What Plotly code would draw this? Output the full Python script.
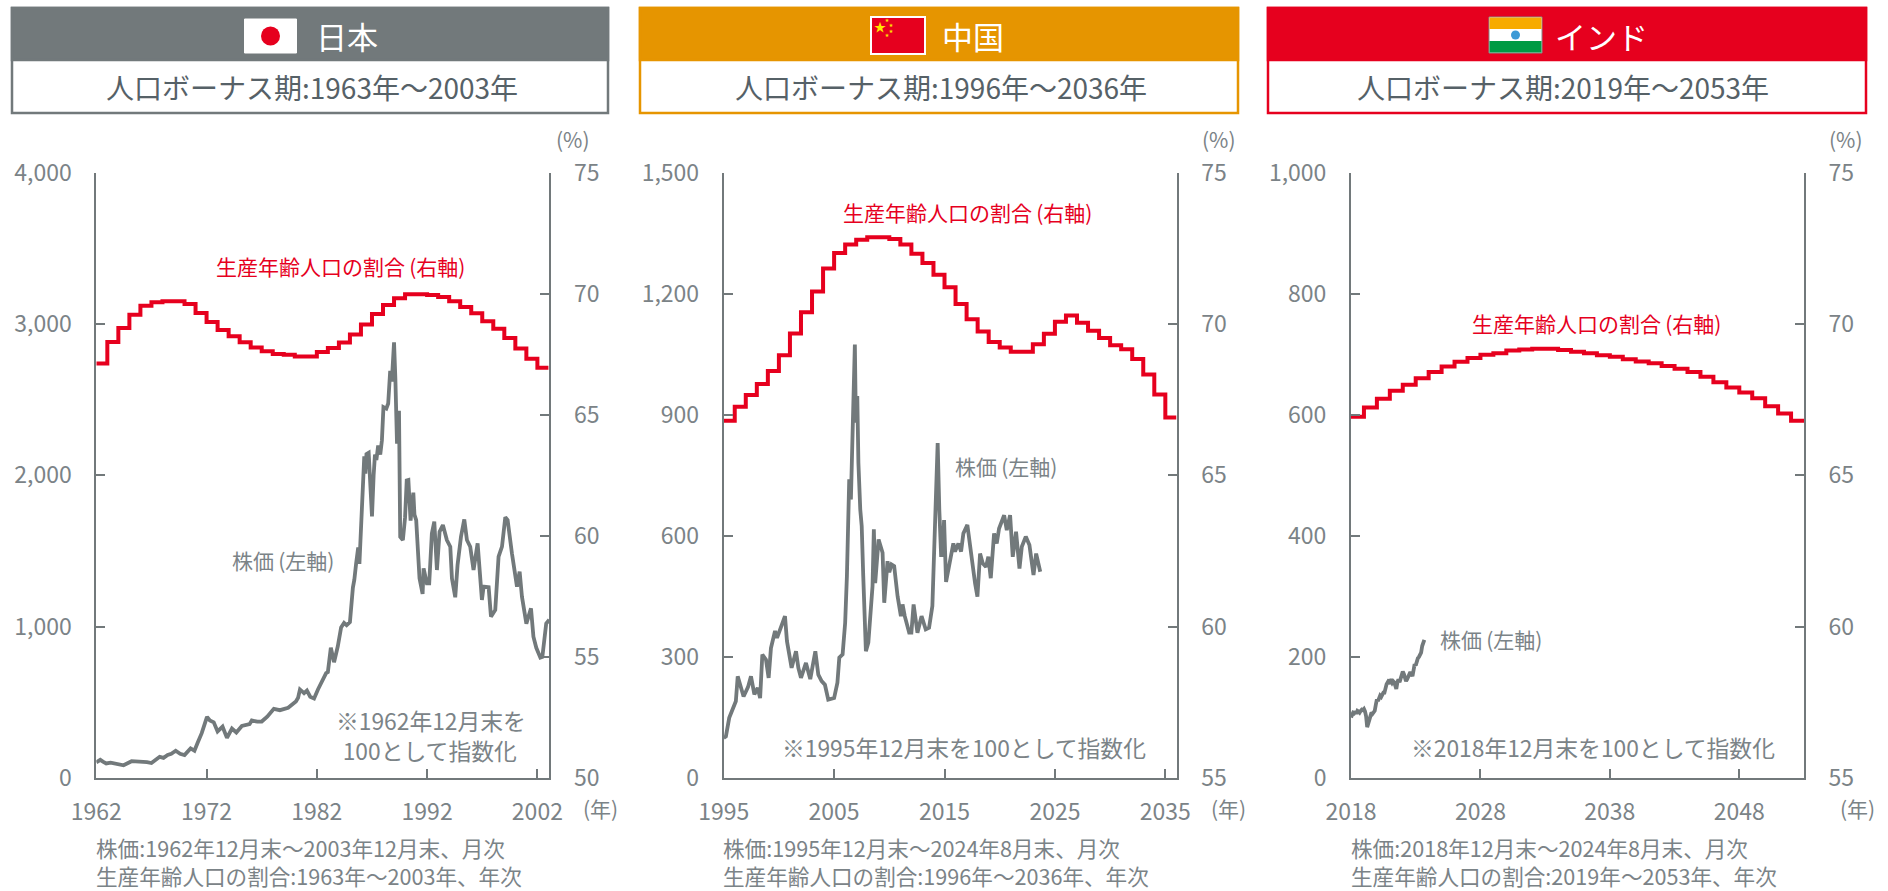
import plotly.graph_objects as go

W, H = 1888, 891
FONT = "Noto Sans CJK JP"
GRAY = "#72797B"
TXT = "#7B8387"
DARK = "#566167"
RED = "#E6001E"
ORANGE = "#E69500"

# ---------- Japan ----------
jp_ratio_start = 1962
jp_ratio = [67.11, 68.0, 68.58, 69.13, 69.5, 69.64, 69.68, 69.68, 69.57, 69.2, 68.83, 68.5, 68.24, 67.99,
            67.77, 67.62, 67.51, 67.48, 67.4, 67.4, 67.59, 67.75, 67.98, 68.31, 68.72, 69.16, 69.53, 69.81,
            69.97, 69.97, 69.94, 69.86, 69.68, 69.45, 69.19, 68.86, 68.55, 68.17, 67.73, 67.31, 66.94]
jp_stock_year = [1962.0, 1962.36, 1962.6, 1962.9, 1963.3, 1963.7, 1964.1, 1964.47, 1965.2, 1965.6, 1966.1, 1966.6, 1967.0,
                 1967.4, 1967.75, 1968.1, 1968.47, 1968.8, 1969.2, 1969.6, 1970.0, 1970.55, 1970.9, 1971.2, 1971.56,
                 1972.04, 1972.3, 1972.65, 1973.0, 1973.45, 1973.85, 1974.3, 1974.7, 1975.2, 1975.9, 1976.1, 1976.6,
                 1977.0, 1977.5, 1978.1, 1978.65, 1979.4, 1980.1, 1980.3, 1980.47, 1980.84, 1981.1, 1981.4, 1981.75,
                 1982.1, 1982.5, 1982.84, 1983.0, 1983.27, 1983.56, 1983.9, 1984.2, 1984.47, 1984.7, 1985.0, 1985.27,
                 1985.4, 1985.56, 1985.75, 1985.86, 1986.1, 1986.2, 1986.3, 1986.4, 1986.5, 1986.7, 1986.85, 1987.0, 1987.15,
                 1987.27, 1987.4, 1987.56, 1987.75, 1987.9, 1988.04, 1988.3, 1988.47, 1988.6, 1988.65, 1988.8, 1989.0, 1989.12,
                 1989.27, 1989.45, 1989.56, 1989.8, 1990.0, 1990.15, 1990.3, 1990.5, 1990.75, 1990.85, 1991.01,
                 1991.31, 1991.59, 1991.68, 1991.98, 1992.19, 1992.43, 1992.65, 1992.89, 1993.13, 1993.43, 1993.79,
                 1994.1, 1994.25, 1994.55, 1994.76, 1995.07, 1995.37, 1995.61, 1995.91, 1996.21, 1996.58, 1996.97,
                 1997.12, 1997.58, 1997.79, 1998.18, 1998.48, 1998.79, 1999.09, 1999.3, 1999.69, 2000.15, 2000.39,
                 2000.6, 2001.0, 2001.42, 2001.64, 2001.9, 2002.27, 2002.45, 2002.8, 2003.08]
jp_stock_value = [103, 120, 108, 96, 101, 96, 90, 84, 111, 109, 111, 105, 99,
                  118, 140, 133, 152, 160, 180, 160, 152, 195, 180, 235, 296,
                  404, 380, 368, 308, 339, 265, 327, 301, 344, 356, 380, 372,
                  373, 405, 457, 448, 464, 505, 530, 585, 561, 578, 537, 525,
                  585, 640, 693, 700, 861, 765, 870, 994, 1025, 1010, 1030, 1258,
                  1310, 1415, 1523, 1415, 1752, 1900, 2125, 2010, 2140, 2149, 1950, 1728, 2000,
                  2137, 2100, 2197, 2137, 2230, 2450, 2440, 2474, 2600, 2690, 2620, 2878, 2640,
                  2209, 2426, 1594, 1572, 1720, 1965, 1968, 1700,
                  1885, 1740, 1704, 1319, 1216, 1385, 1286, 1286, 1616, 1693,
                  1374, 1627, 1671, 1572, 1528, 1319, 1194, 1407, 1594, 1708,
                  1572, 1528, 1374, 1550, 1176, 1264, 1260, 1066, 1110, 1462,
                  1528, 1722, 1704, 1484, 1264, 1363, 1198, 1020, 1121, 933, 860,
                  795, 800, 1020, 1045]
jp_x_ticks = [1962, 1972, 1982, 1992, 2002]
jp_left_ticks = [0, 1000, 2000, 3000, 4000]
jp_left_labels = ["0", "1,000", "2,000", "3,000", "4,000"]
jp_right_ticks = [50, 55, 60, 65, 70, 75]

# ---------- China ----------
cn_ratio_start = 1995
cn_ratio = [66.8, 67.26, 67.65, 68.01, 68.44, 68.96, 69.68, 70.38, 71.07, 71.83, 72.34, 72.62, 72.78, 72.86,
            72.86, 72.8, 72.62, 72.32, 72.01, 71.62, 71.21, 70.66, 70.15, 69.75, 69.4, 69.22, 69.08, 69.08,
            69.33, 69.67, 70.07, 70.28, 70.04, 69.77, 69.53, 69.29, 69.16, 68.84, 68.33, 67.67, 66.91]
cn_stock_year = [1995.0, 1995.2, 1995.5, 1995.8, 1996.1, 1996.27, 1996.6, 1996.8, 1997.2, 1997.47, 1997.78, 1998.08, 1998.3,
                 1998.5, 1998.83, 1999.07, 1999.28, 1999.65, 1999.83, 2000.2, 2000.55, 2000.73, 2000.94, 2001.15,
                 2001.55, 2001.76, 2002.0, 2002.45, 2002.84, 2003.3, 2003.57, 2003.87, 2004.17, 2004.47, 2005.0,
                 2005.3, 2005.47, 2005.77, 2006.0, 2006.16, 2006.37, 2006.52, 2006.88, 2006.97, 2007.1, 2007.2,
                 2007.37, 2007.5, 2007.64, 2007.73, 2007.88, 2008.1, 2008.48, 2008.6, 2008.72, 2009.03, 2009.39,
                 2009.54, 2009.84, 2010.0, 2010.2, 2010.44, 2010.75, 2011.05, 2011.2, 2011.4, 2011.8, 2012.0,
                 2012.2, 2012.55, 2012.92, 2013.3, 2013.6, 2013.9, 2014.08, 2014.38, 2014.53, 2014.69, 2014.82,
                 2014.96, 2015.14, 2015.44, 2015.8, 2015.95, 2016.26, 2016.5, 2016.71, 2017.07, 2017.37, 2017.56,
                 2017.77, 2017.98, 2018.22, 2018.46, 2018.76, 2018.97, 2019.19, 2019.49, 2019.73, 2019.94, 2020.4,
                 2020.64, 2020.94, 2021.18, 2021.48, 2021.79, 2022.0, 2022.36, 2022.69, 2023.06, 2023.3, 2023.67]
cn_stock_value = [99, 103, 149, 169, 190, 252, 223, 202, 225, 252, 207, 223, 198,
                  306, 293, 248, 322, 364, 347, 376, 401, 339, 306, 273,
                  314, 273, 248, 285, 245, 314, 256, 240, 231, 194, 198,
                  236, 298, 306, 384, 500, 740, 690, 1074, 880, 946, 781,
                  665, 624, 500, 426, 314, 335, 475, 616, 483, 591, 558,
                  434, 537, 510, 529, 525, 450, 401, 430, 401, 360, 360,
                  430, 360, 401, 368, 372, 426, 593, 830, 664, 552, 552,
                  639, 486, 532, 581, 561, 581, 561, 606, 627, 565, 511,
                  482, 449, 556, 532, 523, 548, 495, 606, 581, 618, 651,
                  614, 651, 548, 610, 519, 573, 598, 577, 503, 556, 511]
cn_x_ticks = [1995, 2005, 2015, 2025, 2035]
cn_left_ticks = [0, 300, 600, 900, 1200, 1500]
cn_left_labels = ["0", "300", "600", "900", "1,200", "1,500"]
cn_right_ticks = [55, 60, 65, 70, 75]

# ---------- India ----------
in_ratio_start = 2018
in_ratio = [66.93, 67.24, 67.53, 67.79, 67.99, 68.2, 68.41, 68.59, 68.75, 68.87, 68.98, 69.03, 69.12, 69.15, 69.18,
            69.18, 69.14, 69.08, 69.03, 68.96, 68.91, 68.83, 68.76, 68.7, 68.61, 68.52, 68.41, 68.25, 68.07, 67.9,
            67.73, 67.54, 67.28, 67.04, 66.8]
in_stock_month = list(range(69))
in_stock_value = [100, 104, 108, 107, 110, 106, 111, 110, 108, 111, 113, 112, 114, 110, 102, 84, 90, 92, 100, 108, 106,
                  110, 111, 121, 130, 127, 133, 136, 134, 139, 141, 141, 150, 155, 158, 155, 163, 161, 157, 160, 158,
                  153, 147, 158, 163, 158, 165, 172, 176, 172, 163, 160, 163, 168, 172, 175, 172, 168, 178, 188, 186,
                  196, 198, 200, 205, 207, 218, 224, 228]
in_x_ticks = [2018, 2028, 2038, 2048]
in_left_ticks = [0, 200, 400, 600, 800, 1000]
in_left_labels = ["0", "200", "400", "600", "800", "1,000"]
in_right_ticks = [55, 60, 65, 70, 75]

fig = go.Figure()


def px(v):
    return v / W


def py(v):
    return 1 - v / H


def text(x, y, s, size=20, color=TXT, anchor="center"):
    fig.add_annotation(x=px(x), y=py(y), xref="paper", yref="paper", text=s, showarrow=False,
                       xanchor=anchor, yanchor="middle", align=anchor, borderpad=0, borderwidth=0,
                       font=dict(family=FONT, size=size, color=color))


def rect(x0, y0, x1, y1, fill, line=None, lw=0):
    fig.add_shape(type="rect", xref="paper", yref="paper", x0=px(x0), x1=px(x1), y0=py(y0), y1=py(y1),
                  fillcolor=fill, line=dict(color=line or fill, width=lw))


def circle(cx, cy, r, fill):
    fig.add_shape(type="circle", xref="paper", yref="paper", x0=px(cx - r), x1=px(cx + r), y0=py(cy - r),
                  y1=py(cy + r), fillcolor=fill, line=dict(width=0))


def panel(n, left, right, xr, yl, yr, xticks, lt, ll, rt, ratio_x, ratio, sx, sy):
    xa = "x" if n == 0 else f"x{n + 1}"
    y1 = 2 * n + 1
    y2 = 2 * n + 2
    ya1 = "y" if y1 == 1 else f"y{y1}"
    ya2 = f"y{y2}"
    fig.add_trace(go.Scatter(x=sx, y=sy, mode="lines", xaxis=xa, yaxis=ya1, showlegend=False, hoverinfo="skip",
                             line=dict(color=GRAY, width=3.8, shape="linear")))
    fig.add_trace(go.Scatter(x=ratio_x + [ratio_x[-1] + 1], y=ratio + [ratio[-1]], mode="lines", xaxis=xa, yaxis=ya2,
                             showlegend=False, hoverinfo="skip",
                             line=dict(color=RED, width=4, shape="hv")))
    common = dict(showgrid=False, zeroline=False, showline=True, linecolor=GRAY, linewidth=2, automargin=False,
                  ticks="inside", ticklen=9, tickcolor=GRAY, tickwidth=1.6,
                  tickfont=dict(family=FONT, size=23, color=TXT))
    xname = "xaxis" if n == 0 else f"xaxis{n + 1}"
    yname1 = "yaxis" if y1 == 1 else f"yaxis{y1}"
    yname2 = f"yaxis{y2}"
    dom_y = [py(778), py(172.5)]
    fig.update_layout({
        xname: dict(common, domain=[px(left), px(right)], range=xr, tickmode="array", tickvals=xticks,
                    ticktext=[str(t) for t in xticks], anchor=ya1, ticklabelstandoff=12),
        yname1: dict(common, domain=dom_y, range=yl, tickmode="array", tickvals=lt, ticktext=ll, anchor=xa,
                     side="left", ticklabelstandoff=18),
        yname2: dict(common, domain=dom_y, range=yr, tickmode="array", tickvals=rt, ticktext=[str(t) for t in rt],
                     anchor=xa, side="right", overlaying=ya1, ticklabelstandoff=18),
    })


jp_rx = [jp_ratio_start + i for i in range(len(jp_ratio))]
cn_rx = [cn_ratio_start + i for i in range(len(cn_ratio))]
in_rx = [in_ratio_start + i for i in range(len(in_ratio))]
in_sx = [2018 + m / 12 for m in in_stock_month]

panel(0, 96.3, 549.3, [1962, 2003.08], [0, 4000], [50, 75], jp_x_ticks, jp_left_ticks, jp_left_labels,
      jp_right_ticks, jp_rx, jp_ratio, jp_stock_year, jp_stock_value)
panel(1, 723.7, 1176.7, [1995, 2036.03], [0, 1500], [55, 75], cn_x_ticks, cn_left_ticks, cn_left_labels,
      cn_right_ticks, cn_rx, cn_ratio, cn_stock_year, cn_stock_value)
panel(2, 1351, 1804, [2018, 2053], [0, 1000], [55, 75], in_x_ticks, in_left_ticks, in_left_labels,
      in_right_ticks, in_rx, in_ratio, in_sx, in_stock_value)

# Header boxes
for (x0, x1, col, name, name_cx, sub, sub_cx) in [
    (12, 608, GRAY, "日本", 347, "人口ボーナス期:1963年～2003年", 312),
    (640, 1238, ORANGE, "中国", 973, "人口ボーナス期:1996年～2036年", 940.5),
    (1268, 1866, RED, "インド", 1601, "人口ボーナス期:2019年～2053年", 1563),
]:
    rect(x0, 8, x1, 113, "white", col, 2.5)
    rect(x0, 8, x1, 60, col, col, 2.5)
    text(name_cx, 35, name, size=31, color="white")
    text(sub_cx, 87, sub, size=28, color=DARK)

# Flags
rect(244.5, 19, 296.5, 53, "white", "white", 1)
circle(270.5, 36, 9.5, RED)
rect(871, 17, 925, 54, RED, "white", 2)
text(880, 27, "★", size=12, color="#FFE600")
for (sx_, sy_) in [(887, 20.5), (891, 25), (891, 31), (887, 35)]:
    text(sx_, sy_, "★", size=4, color="#FFE600")
rect(1489, 17, 1542, 53, "white", "#888888", 1)
rect(1489.5, 17.5, 1541.5, 29, "#F7AB00")
rect(1489.5, 41, 1541.5, 52.5, "#009A44")
circle(1515.5, 35, 4.5, "#3D9AD6")

# Series labels
LR = "生産年齢人口の割合\u2009(右軸)"
LS = "株価\u2009(左軸)"
text(340.5, 266, LR, size=21, color=RED)
text(283, 560, LS, size=21)
text(967, 212, LR, size=21, color=RED)
text(1006, 466, LS, size=21)
text(1596, 323, LR, size=21, color=RED)
text(1491, 639, LS, size=21)

# Notes
text(526, 735, "※1962年12月末を<br>100として指数化\u2009\u2009", size=22.8, anchor="right")
text(1146, 747, "※1995年12月末を100として指数化", size=22.8, anchor="right")
text(1775, 747, "※2018年12月末を100として指数化", size=22.8, anchor="right")

# Units
for cx_pct, cx_yr in [(573, 600), (1219, 1228), (1846, 1857)]:
    text(cx_pct, 139, "(%)", size=21)
    text(cx_yr, 808, "(年)", size=21)

# Footers
for x0, a, b in [
    (96, "株価:1962年12月末～2003年12月末、月次", "生産年齢人口の割合:1963年～2003年、年次"),
    (723, "株価:1995年12月末～2024年8月末、月次", "生産年齢人口の割合:1996年～2036年、年次"),
    (1351, "株価:2018年12月末～2024年8月末、月次", "生産年齢人口の割合:2019年～2053年、年次"),
]:
    text(x0, 861, a + "<br>" + b, size=21.6, anchor="left")

fig.update_layout(width=W, height=H, margin=dict(l=0, r=0, t=0, b=0), paper_bgcolor="white", plot_bgcolor="rgba(0,0,0,0)",
                  showlegend=False, font=dict(family=FONT))
fig.write_html("out.html", config={"displayModeBar": False},
               post_script="document.body.style.margin='0';document.body.style.overflow='hidden';")
